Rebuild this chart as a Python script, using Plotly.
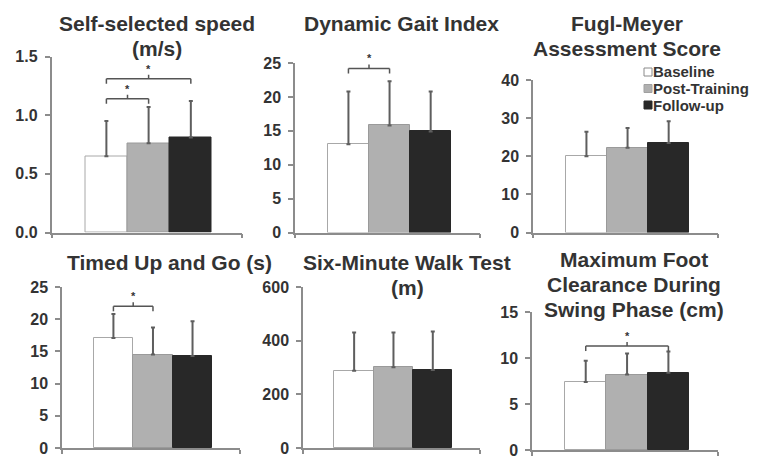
import plotly.graph_objects as go

W, H = 768, 460

# ---------------- data ----------------
series = ["Baseline", "Post-Training", "Follow-up"]

titles = [
    ["Self-selected speed", "(m/s)"],
    ["Dynamic Gait Index"],
    ["Fugl-Meyer", "Assessment Score"],
    ["Timed Up and Go (s)"],
    ["Six-Minute Walk Test", "(m)"],
    ["Maximum Foot", "Clearance During", "Swing Phase (cm)"],
]

baseline_mean = [0.65, 13.0, 20.0, 17.1, 288, 7.4]
post_mean = [0.76, 15.8, 22.2, 14.5, 301, 8.2]
follow_mean = [0.81, 14.9, 23.5, 14.3, 291, 8.4]

baseline_sd = [0.30, 7.8, 6.4, 3.7, 142, 2.3]
post_sd = [0.31, 6.5, 5.2, 4.2, 129, 2.3]
follow_sd = [0.31, 5.9, 5.7, 5.4, 143, 2.3]

y_max = [1.5, 25, 40, 25, 600, 15]
y_dtick = [0.5, 5, 10, 5, 200, 5]
y_format = [".1f", "d", "d", "d", "d", "d"]

# significance brackets (panel index, from bar, to bar, level)
sig_panel = [0, 0, 1, 3, 5]
sig_from = [0, 0, 0, 0, 0]
sig_to = [1, 2, 1, 1, 2]
sig_level = [1.14, 1.31, 24.2, 22.0, 11.3]

# ---------------- style / layout ----------------
fills = ["#ffffff", "#b0b0b0", "#282828"]
outlines = ["#a8a8a8", "#9a9a9a", "#282828"]
key_outlines = ["#8a8a8a", "#a0a0a0", "#282828"]
axis_col = "#8c8c8c"
text_col = "#333333"
err_col = "#5e5e5e"
FONT = "Liberation Sans"

# the page body has a default 8px margin: positions below are window pixels
OFF = 8


def px(v):
    return (v - OFF) / W


def py(v):
    return 1 - (v - OFF) / H


# panel boxes in window pixels: left, right, bottom(0), top(max)
boxes = [
    (51.5, 241.5, 232.5, 56.5),
    (295, 480, 232.5, 63),
    (533, 718, 232.5, 80),
    (62, 240, 448, 287),
    (303, 480, 448, 287),
    (532, 718, 450, 312),
]
title_x = [157, 401, 627, 169, 407, 634]
title_y = [23.5, 23.5, 23.5, 262.5, 262, 259.5]
line_gap = 25
x_lo, x_hi = -1.3, 3.2

legend_key_x = 644
legend_text_x = 652
legend_row_y = [72, 88.5, 105]
key_size = 8

means = [baseline_mean, post_mean, follow_mean]
sds = [baseline_sd, post_sd, follow_sd]

fig = go.Figure()
layout = dict(
    width=W, height=H, margin=dict(l=0, r=0, t=0, b=0, pad=0, autoexpand=False),
    paper_bgcolor="white", plot_bgcolor="white",
    barmode="overlay", bargap=0,
    showlegend=False,
    shapes=[], annotations=[],
)

for p in range(6):
    sfx = "" if p == 0 else str(p + 1)
    xa, ya = "x" + sfx, "y" + sfx
    l, r, b, t = boxes[p]
    for s in range(3):
        fig.add_trace(go.Bar(
            x=[s], y=[means[s][p]], width=[1], name=series[s],
            xaxis=xa, yaxis=ya, legendgroup=series[s], showlegend=False,
            marker=dict(color=fills[s], line=dict(color=outlines[s], width=1)),
            error_y=dict(type="data", symmetric=False, array=[sds[s][p]], arrayminus=[0],
                         color=err_col, thickness=2, width=2),
            hoverinfo="skip",
        ))
    layout["xaxis" + sfx] = dict(
        domain=[px(l), px(r)], anchor=ya, range=[x_lo, x_hi], automargin=False,
        showgrid=False, zeroline=False, showline=True, linecolor=axis_col, linewidth=1.5,
        tickvals=[x_lo, x_hi], ticks="outside", ticklen=4, tickcolor=axis_col, tickwidth=1.5,
        showticklabels=False, fixedrange=True,
    )
    layout["yaxis" + sfx] = dict(
        domain=[py(b), py(t)], anchor=xa, range=[0, y_max[p]], automargin=False,
        dtick=y_dtick[p], tick0=0, tickformat=y_format[p],
        showgrid=False, zeroline=False, showline=True, linecolor=axis_col, linewidth=1.5,
        ticks="outside", ticklen=5, tickcolor=axis_col, tickwidth=1.5, ticklabelstandoff=4,
        tickfont=dict(family=FONT, size=16, color=text_col, weight="bold"),
        fixedrange=True,
    )
    for i, line in enumerate(titles[p]):
        layout["annotations"].append(dict(
            text=line, xref="paper", yref="paper", x=px(title_x[p]),
            y=py(title_y[p] + i * line_gap), xanchor="center", yanchor="middle",
            showarrow=False, borderpad=0,
            font=dict(family=FONT, size=21, color=text_col, weight="bold"),
        ))

# significance brackets
for k in range(len(sig_panel)):
    p = sig_panel[k]
    sfx = "" if p == 0 else str(p + 1)
    xr, yr = "x" + sfx, "y" + sfx
    a, c, lv = sig_from[k], sig_to[k], sig_level[k]
    mid = (a + c) / 2
    ln = dict(color="#555555", width=1.5)
    layout["shapes"].append(dict(type="line", xref=xr, yref=yr, x0=a, x1=c, y0=lv, y1=lv, line=ln))
    for xx, d in ((a, -5), (c, -5), (mid, 4)):
        layout["shapes"].append(dict(type="line", xref=xr, yref=yr, ysizemode="pixel",
                                     yanchor=lv, x0=xx, x1=xx, y0=0, y1=d, line=ln))
    layout["annotations"].append(dict(
        text="*", xref=xr, yref=yr, x=mid, y=lv, yshift=10, showarrow=False,
        xanchor="center", yanchor="middle", borderpad=0,
        font=dict(family=FONT, size=11, color=text_col, weight="bold"),
    ))

# legend (keys + labels)
for s in range(3):
    cy = legend_row_y[s]
    layout["shapes"].append(dict(
        type="rect", xref="paper", yref="paper",
        x0=px(legend_key_x), x1=px(legend_key_x + key_size),
        y0=py(cy + key_size / 2), y1=py(cy - key_size / 2),
        fillcolor=fills[s], line=dict(color=key_outlines[s], width=1),
    ))
    layout["annotations"].append(dict(
        text=series[s], xref="paper", yref="paper", x=px(legend_text_x), y=py(cy),
        xanchor="left", yanchor="middle", showarrow=False, borderpad=0,
        font=dict(family=FONT, size=15, color=text_col, weight="bold"),
    ))

fig.update_layout(**layout)
fig.write_html("out.html")
